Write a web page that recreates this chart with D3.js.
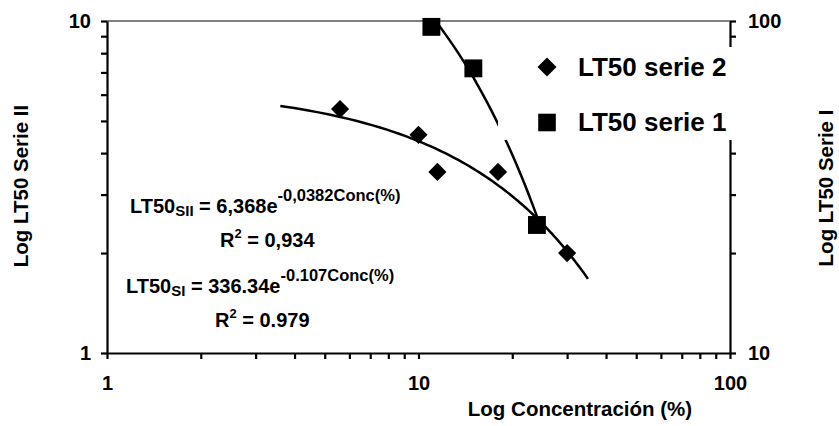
<!DOCTYPE html>
<html>
<head>
<meta charset="utf-8">
<script src="https://cdn.jsdelivr.net/npm/d3@7"></script>
<style>
  body { margin: 0; background: #fff; }
  text { font-family: "Liberation Sans", Arial, sans-serif; font-weight: bold; fill: #000; }
</style>
</head>
<body>
<div id="chart1"></div>
<script>

// series 2 (left axis) and series 1 (right axis)
var concS2 = [5.6, 10, 11.5, 18, 30];
var lt50S2 = [5.43, 4.54, 3.51, 3.51, 2.0];
var concS1 = [11, 15, 24];
var lt50S1 = [96, 72, 24.3];

// exponential trendlines: coefficient a, exponent b, x span drawn
var fitS2 = [6.368, -0.0382];
var fitS2Span = [3.6, 35];
var fitS1 = [336.34, -0.107];
var fitS1Span = [11, 24];

var xTicks = [1, 2, 3, 4, 5, 6, 7, 8, 9, 10, 20, 30, 40, 50, 60, 70, 80, 90, 100];
var yLeftTicks = [1, 2, 3, 4, 5, 6, 7, 8, 9, 10];
var yRightTicks = [10, 20, 30, 40, 50, 60, 70, 80, 90, 100];
var labelled = [1, 10, 100];

var legendNames = ["LT50 serie 2", "LT50 serie 1"];

var width = 839, height = 426;

var svg = d3.select("#chart1")
    .append("svg")
    .attr("width", width)
    .attr("height", height);

var plotLeft = 107, plotRight = 730, plotTop = 21, plotBottom = 353;

var x = d3.scaleLog().domain([1, 100]).range([plotLeft, plotRight]);
var yL = d3.scaleLog().domain([1, 10]).range([plotBottom, plotTop]);
var yR = d3.scaleLog().domain([10, 100]).range([plotBottom, plotTop]);

function fmt(d) { return labelled.indexOf(d) >= 0 ? d : ""; }

svg.append("defs").append("clipPath")
    .attr("id", "plotclip")
    .append("rect")
    .attr("x", plotLeft).attr("y", plotTop)
    .attr("width", plotRight - plotLeft).attr("height", plotBottom - plotTop);

// gray gridline at 10
svg.append("line")
    .attr("x1", plotLeft).attr("x2", plotRight)
    .attr("y1", yL(10)).attr("y2", yL(10))
    .attr("stroke", "#808080")
    .attr("stroke-width", 2);

var xAxis = svg.append("g")
    .attr("transform", "translate(0," + plotBottom + ")")
    .call(d3.axisBottom(x).tickValues(xTicks).tickFormat(fmt)
        .tickSize(6).tickSizeOuter(0).tickPadding(17));

var yAxisL = svg.append("g")
    .attr("transform", "translate(" + plotLeft + ",0)")
    .call(d3.axisLeft(yL).tickValues(yLeftTicks).tickFormat(fmt)
        .tickSize(6).tickSizeOuter(0).tickPadding(10));

var yAxisR = svg.append("g")
    .attr("transform", "translate(" + plotRight + ",0)")
    .call(d3.axisRight(yR).tickValues(yRightTicks).tickFormat(fmt)
        .tickSize(6).tickSizeOuter(0).tickPadding(12));

[xAxis, yAxisL, yAxisR].forEach(function(g) {
    g.selectAll("path, line").attr("stroke", "#000").attr("stroke-width", 2.2);
    g.selectAll("text")
        .style("font-family", "'Liberation Sans', Arial, sans-serif")
        .style("font-weight", "bold")
        .style("font-size", "20px")
        .attr("fill", "#000");
});

// trendlines
function fitPoints(coef, span) {
    var pts = [];
    var n = 80;
    for (var i = 0; i <= n; i++) {
        var c = span[0] + (span[1] - span[0]) * i / n;
        pts.push([c, coef[0] * Math.exp(coef[1] * c)]);
    }
    return pts;
}

var trend = svg.append("g").attr("clip-path", "url(#plotclip)");

trend.append("path")
    .datum(fitPoints(fitS2, fitS2Span))
    .attr("fill", "none").attr("stroke", "#000").attr("stroke-width", 2.5)
    .attr("d", d3.line().x(function(d) { return x(d[0]); }).y(function(d) { return yL(d[1]); }));

trend.append("path")
    .datum(fitPoints(fitS1, fitS1Span))
    .attr("fill", "none").attr("stroke", "#000").attr("stroke-width", 2.5)
    .attr("d", d3.line().x(function(d) { return x(d[0]); }).y(function(d) { return yR(d[1]); }));

// markers
var diamond = d3.symbol().type(d3.symbolSquare).size(165);
var square = d3.symbol().type(d3.symbolSquare).size(320);

svg.selectAll("path.s2")
    .data(concS2)
    .enter().append("path")
        .attr("class", "s2")
        .attr("d", diamond)
        .attr("fill", "#000")
        .attr("transform", function(d, i) {
            return "translate(" + x(d) + "," + yL(lt50S2[i]) + ") rotate(45)";
        });

svg.selectAll("path.s1")
    .data(concS1)
    .enter().append("path")
        .attr("class", "s1")
        .attr("d", square)
        .attr("fill", "#000")
        .attr("transform", function(d, i) {
            return "translate(" + x(d) + "," + yR(lt50S1[i]) + ")";
        });

// legend (white box hides what is behind it)
var legend = svg.append("g");
legend.append("rect")
    .attr("x", 498).attr("y", 47)
    .attr("width", 270).attr("height", 93)
    .attr("fill", "#fff");

legend.append("path")
    .attr("d", d3.symbol().type(d3.symbolSquare).size(180))
    .attr("transform", "translate(547,67) rotate(45)");
legend.append("path")
    .attr("d", d3.symbol().type(d3.symbolSquare).size(310))
    .attr("transform", "translate(547,122.5)");

legend.selectAll("text.leg")
    .data(legendNames)
    .enter().append("text")
        .attr("class", "leg")
        .attr("x", 578)
        .attr("y", function(d, i) { return i === 0 ? 75.5 : 130.5; })
        .style("font-size", "26px")
        .text(function(d) { return d; });

// axis titles
svg.append("text")
    .attr("transform", "translate(28,186) rotate(-90)")
    .attr("text-anchor", "middle")
    .style("font-size", "20.5px")
    .text("Log LT50 Serie II");

svg.append("text")
    .attr("transform", "translate(833,188) rotate(-90)")
    .attr("text-anchor", "middle")
    .style("font-size", "20.5px")
    .text("Log LT50 Serie I");

svg.append("text")
    .attr("x", 580).attr("y", 416)
    .attr("text-anchor", "middle")
    .style("font-size", "20.5px")
    .text("Log Concentración (%)");

// equation labels
function equation(xPos, yPos, sub, rest, sup) {
    var t = svg.append("text").attr("x", xPos).attr("y", yPos).style("font-size", "20px");
    t.append("tspan").text("LT50");
    t.append("tspan").attr("dy", 3).style("font-size", "15px").text(sub);
    t.append("tspan").attr("dy", -3).text(rest);
    t.append("tspan").attr("dy", -12).style("font-size", "16.5px").text(sup);
}

function rsq(xPos, yPos, val) {
    var t = svg.append("text").attr("x", xPos).attr("y", yPos).style("font-size", "20px");
    t.append("tspan").text("R");
    t.append("tspan").attr("dy", -9).style("font-size", "13px").text("2");
    t.append("tspan").attr("dy", 9).text(" = " + val);
}

equation(130, 213, "SII", " = 6,368e", "-0,0382Conc(%)");
rsq(220, 247, "0,934");
equation(126, 293, "SI", " = 336.34e", "-0.107Conc(%)");
rsq(215, 327, "0.979");

</script>
</body>
</html>
